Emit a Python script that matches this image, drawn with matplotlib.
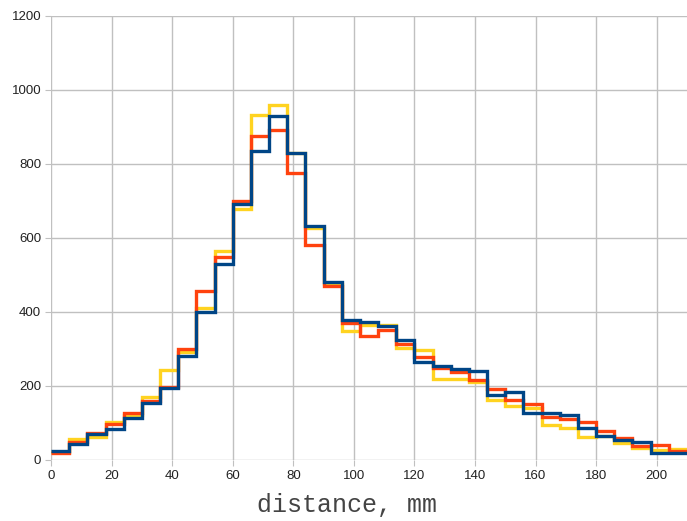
import numpy as np
import matplotlib
matplotlib.use("Agg")
import matplotlib.pyplot as plt

# bin edges (mm), 6 mm bins
edges = np.arange(0, 211, 6)

# counts per bin
yellow = [22, 56, 63, 102, 122, 171, 243, 293, 411, 564, 678, 933, 960, 831, 627, 476,
          348, 366, 364, 303, 298, 219, 220, 212, 161, 147, 140, 95, 86, 62, 64, 46, 32, 28, 30]
orange = [20, 50, 72, 97, 126, 160, 198, 301, 456, 550, 699, 876, 891, 776, 582, 469,
          370, 334, 352, 314, 278, 249, 237, 215, 192, 161, 152, 116, 111, 103, 79, 59, 39, 41, 25]
blue = [25, 44, 70, 83, 113, 153, 194, 280, 399, 531, 692, 836, 929, 830, 633, 480,
        379, 372, 361, 325, 265, 255, 246, 240, 175, 183, 127, 127, 122, 86, 66, 53, 50, 19, 19]

xticks = list(range(0, 201, 20))
yticks = list(range(0, 1201, 200))

plt.rcParams['font.family'] = ['Liberation Sans', 'DejaVu Sans']

fig = plt.figure(figsize=(6.87, 5.21), dpi=100)
ax = fig.add_axes([51 / 687, 1 - 460 / 521, 1 - 51 / 687, (460 - 16) / 521])

ax.stairs(yellow, edges, baseline=None, color='#ffd320', lw=2.4)
ax.stairs(orange, edges, baseline=None, color='#ff420e', lw=2.4)
ax.stairs(blue, edges, baseline=None, color='#004586', lw=2.4)

ax.set_xlim(0, 210)
ax.set_ylim(0, 1200)
ax.set_xticks(xticks)
ax.set_yticks(yticks)
ax.grid(True, color='#c0c0c0', lw=1)
ax.set_axisbelow(True)
for s in ax.spines.values():
    s.set_visible(False)
ax.tick_params(length=4, color='#c0c0c0', labelsize=9.5, labelcolor='#222222', pad=3)

ax.set_xlabel("distance, mm", family='Liberation Mono', fontsize=18, color='#444444')
# label sits at the middle of the whole picture, not of the plot area
ax.xaxis.set_label_coords(0.465, -0.075)

fig.savefig("out.png", dpi=100)
